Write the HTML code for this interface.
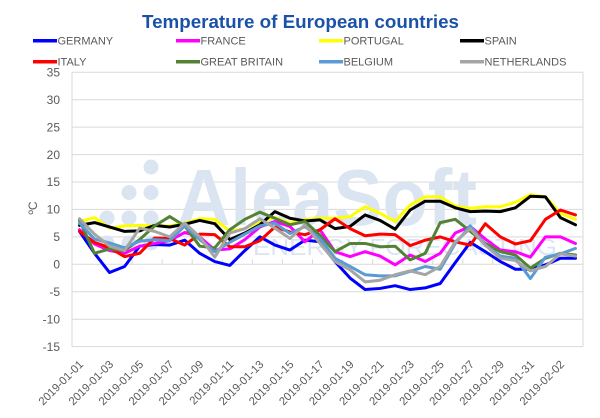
<!DOCTYPE html>
<html><head><meta charset="utf-8"><style>
html,body{margin:0;padding:0;background:#fff;}
svg{display:block;font-family:"Liberation Sans",sans-serif;}
</style></head><body>
<svg width="600" height="418" viewBox="0 0 600 418" xmlns="http://www.w3.org/2000/svg">
<rect width="600" height="418" fill="#fff"/>
<text x="300.5" y="28" text-anchor="middle" font-size="18" font-weight="bold" fill="#1b52a8" textLength="317" lengthAdjust="spacingAndGlyphs">Temperature of European countries</text>
<g font-size="11" fill="#595959" stroke-width="3.5">
<line x1="33" y1="40.7" x2="57" y2="40.7" stroke="#0000ff"/><text x="57.5" y="44.7">GERMANY</text>
<line x1="176" y1="40.7" x2="200" y2="40.7" stroke="#ff00ff"/><text x="200.5" y="44.7">FRANCE</text>
<line x1="319" y1="40.7" x2="343" y2="40.7" stroke="#ffff00"/><text x="343.5" y="44.7">PORTUGAL</text>
<line x1="460" y1="40.7" x2="484" y2="40.7" stroke="#000000"/><text x="484.5" y="44.7">SPAIN</text>
<line x1="33" y1="61.7" x2="57" y2="61.7" stroke="#ff0000"/><text x="57.5" y="65.7">ITALY</text>
<line x1="176" y1="61.7" x2="200" y2="61.7" stroke="#548235"/><text x="200.5" y="65.7">GREAT BRITAIN</text>
<line x1="319" y1="61.7" x2="343" y2="61.7" stroke="#5b9bd5"/><text x="343.5" y="65.7">BELGIUM</text>
<line x1="460" y1="61.7" x2="484" y2="61.7" stroke="#a5a5a5"/><text x="484.5" y="65.7">NETHERLANDS</text>
</g>
<g stroke="#d9d9d9" stroke-width="1">
<line x1="72" y1="72.3" x2="583" y2="72.3"/>
<line x1="72" y1="99.7" x2="583" y2="99.7"/>
<line x1="72" y1="127.1" x2="583" y2="127.1"/>
<line x1="72" y1="154.6" x2="583" y2="154.6"/>
<line x1="72" y1="182" x2="583" y2="182"/>
<line x1="72" y1="209.4" x2="583" y2="209.4"/>
<line x1="72" y1="236.9" x2="583" y2="236.9"/>
<line x1="72" y1="291.7" x2="583" y2="291.7"/>
<line x1="72" y1="319.2" x2="583" y2="319.2"/>
<line x1="72" y1="346.6" x2="583" y2="346.6"/>
<line x1="72" y1="72.3" x2="72" y2="346.6"/>
<line x1="583" y1="72.3" x2="583" y2="346.6"/>
</g>
<g fill="#dbe5f1">
<circle cx="151" cy="167" r="7.5"/>
<circle cx="129" cy="192.5" r="7.5"/><circle cx="151" cy="192.5" r="7.5"/>
<circle cx="107" cy="218" r="7.5"/><circle cx="129" cy="218" r="7.5"/><circle cx="151" cy="218" r="7.5"/>
<circle cx="107" cy="243" r="7.5"/><circle cx="129" cy="243" r="7.5"/><circle cx="151" cy="243" r="7.5"/>
<text x="177" y="225" font-size="80" font-weight="bold" textLength="300" lengthAdjust="spacingAndGlyphs">AleaSoft</text>
<text x="253" y="255" font-size="23" textLength="304" lengthAdjust="spacingAndGlyphs">ENERGY FORECASTING</text>
</g>
<g stroke="#d9d9d9" stroke-width="1">
<line x1="72" y1="264.3" x2="583" y2="264.3"/>
<line x1="102.06" y1="264.3" x2="102.06" y2="259.3"/><line x1="132.12" y1="264.3" x2="132.12" y2="259.3"/><line x1="162.18" y1="264.3" x2="162.18" y2="259.3"/><line x1="192.24" y1="264.3" x2="192.24" y2="259.3"/><line x1="222.3" y1="264.3" x2="222.3" y2="259.3"/><line x1="252.36" y1="264.3" x2="252.36" y2="259.3"/><line x1="282.42" y1="264.3" x2="282.42" y2="259.3"/><line x1="312.48" y1="264.3" x2="312.48" y2="259.3"/><line x1="342.54" y1="264.3" x2="342.54" y2="259.3"/><line x1="372.6" y1="264.3" x2="372.6" y2="259.3"/><line x1="402.66" y1="264.3" x2="402.66" y2="259.3"/><line x1="432.72" y1="264.3" x2="432.72" y2="259.3"/><line x1="462.78" y1="264.3" x2="462.78" y2="259.3"/><line x1="492.84" y1="264.3" x2="492.84" y2="259.3"/><line x1="522.9" y1="264.3" x2="522.9" y2="259.3"/><line x1="552.96" y1="264.3" x2="552.96" y2="259.3"/>
</g>
<g font-size="12" fill="#595959" text-anchor="end">
<text x="60" y="76.5">35</text><text x="60" y="103.9">30</text><text x="60" y="131.3">25</text><text x="60" y="158.8">20</text><text x="60" y="186.2">15</text><text x="60" y="213.6">10</text><text x="60" y="241.1">5</text><text x="60" y="268.5">0</text><text x="60" y="295.9">-5</text><text x="60" y="323.4">-10</text><text x="60" y="350.8">-15</text>
</g>
<text transform="translate(37,208) rotate(-90)" text-anchor="middle" font-size="12" fill="#595959">ºC</text>
<g font-size="11.3" fill="#595959" text-anchor="end">
<text transform="translate(84,365) rotate(-45)">2019-01-01</text>
<text transform="translate(114.06,365) rotate(-45)">2019-01-03</text>
<text transform="translate(144.12,365) rotate(-45)">2019-01-05</text>
<text transform="translate(174.18,365) rotate(-45)">2019-01-07</text>
<text transform="translate(204.24,365) rotate(-45)">2019-01-09</text>
<text transform="translate(234.3,365) rotate(-45)">2019-01-11</text>
<text transform="translate(264.36,365) rotate(-45)">2019-01-13</text>
<text transform="translate(294.42,365) rotate(-45)">2019-01-15</text>
<text transform="translate(324.48,365) rotate(-45)">2019-01-17</text>
<text transform="translate(354.54,365) rotate(-45)">2019-01-19</text>
<text transform="translate(384.6,365) rotate(-45)">2019-01-21</text>
<text transform="translate(414.66,365) rotate(-45)">2019-01-23</text>
<text transform="translate(444.72,365) rotate(-45)">2019-01-25</text>
<text transform="translate(474.78,365) rotate(-45)">2019-01-27</text>
<text transform="translate(504.84,365) rotate(-45)">2019-01-29</text>
<text transform="translate(534.9,365) rotate(-45)">2019-01-31</text>
<text transform="translate(564.96,365) rotate(-45)">2019-02-02</text>
</g>
<g transform="translate(79.5,264.3) scale(15.03,-5.486)" fill="none" stroke-width="3" stroke-linejoin="round" stroke-linecap="round">
<polyline vector-effect="non-scaling-stroke" stroke="#0000ff" points="0,6.0 1,2.0 2,-1.5 3,-0.4 4,3.3 5,3.6 6,3.5 7,4.4 8,2.0 9,0.5 10,-0.2 11,2.5 12,5.0 13,3.5 14,2.6 15,4.4 16,4.1 17,0.5 18,-2.5 19,-4.6 20,-4.4 21,-3.9 22,-4.6 23,-4.3 24,-3.5 25,0.3 26,4.0 27,2.3 28,0.5 29,-0.9 30,-0.9 31,-0.1 32,1.1 33,1.1"/>
<polyline vector-effect="non-scaling-stroke" stroke="#ff00ff" points="0,6.3 1,3.7 2,2.5 3,2.0 4,3.3 5,3.8 6,4.3 7,5.8 8,5.0 9,2.6 10,2.8 11,4.5 12,6.8 13,7.8 14,6.9 15,4.1 16,6.3 17,2.3 18,1.4 19,2.3 20,1.5 21,-0.1 22,1.7 23,0.5 24,2.0 25,5.7 26,6.9 27,4.6 28,2.6 29,2.3 30,1.3 31,5.0 32,5.0 33,3.8"/>
<polyline vector-effect="non-scaling-stroke" stroke="#ffff00" points="0,7.8 1,8.5 2,6.6 3,7.0 4,7.1 5,7.0 6,7.0 7,7.5 8,8.3 9,8.2 10,6.0 11,6.5 12,7.8 13,8.5 14,7.5 15,8.2 16,8.4 17,8.4 18,8.7 19,10.5 20,9.3 21,7.8 22,10.8 23,12.3 24,12.3 25,10.6 26,10.2 27,10.5 28,10.5 29,11.3 30,12.7 31,12.3 32,9.3 33,8.2"/>
<polyline vector-effect="non-scaling-stroke" stroke="#000000" points="0,7.1 1,7.6 2,6.8 3,6.0 4,6.1 5,7.1 6,6.8 7,7.3 8,8.0 9,7.4 10,4.5 11,5.7 12,7.2 13,9.6 14,8.4 15,7.9 16,8.1 17,6.5 18,6.9 19,9.0 20,8.0 21,6.4 22,9.9 23,11.5 24,11.5 25,10.3 26,9.6 27,9.7 28,9.6 29,10.3 30,12.4 31,12.3 32,8.5 33,7.2"/>
<polyline vector-effect="non-scaling-stroke" stroke="#ff0000" points="0,6.0 1,4.0 2,3.0 3,1.4 4,2.0 5,4.8 6,4.7 7,3.5 8,5.5 9,5.4 10,3.2 11,3.2 12,4.3 13,6.8 14,5.9 15,5.4 16,6.3 17,8.3 18,6.5 19,5.2 20,5.5 21,5.4 22,3.4 23,4.4 24,5.0 25,4.1 26,3.5 27,7.4 28,5.0 29,3.7 30,4.3 31,8.2 32,9.9 33,9.0"/>
<polyline vector-effect="non-scaling-stroke" stroke="#548235" points="0,8.0 1,2.0 2,2.8 3,2.5 4,4.5 5,7.0 6,8.7 7,7.0 8,3.3 9,3.0 10,6.3 11,8.2 12,9.5 13,8.4 14,7.2 15,7.8 16,5.3 17,2.3 18,3.8 19,3.8 20,3.2 21,3.3 22,0.8 23,2.0 24,7.6 25,8.2 26,6.0 27,3.8 28,2.3 29,1.7 30,-0.7 31,1.1 32,2.0 33,1.7"/>
<polyline vector-effect="non-scaling-stroke" stroke="#5b9bd5" points="0,7.5 1,4.6 2,3.9 3,3.0 4,4.2 5,4.5 6,4.3 7,7.0 8,4.5 9,2.3 10,4.0 11,5.5 12,7.0 13,7.5 14,5.6 15,6.9 16,4.7 17,1.1 18,-0.4 19,-1.9 20,-2.1 21,-2.1 22,-1.3 23,-0.4 24,-0.9 25,3.8 26,7.0 27,3.5 28,1.5 29,1.1 30,-2.6 31,1.3 32,1.9 33,2.9"/>
<polyline vector-effect="non-scaling-stroke" stroke="#a5a5a5" points="0,8.3 1,5.5 2,3.3 3,2.5 4,6.6 5,6.0 6,5.0 7,7.5 8,5.0 9,1.3 10,5.7 11,6.5 12,8.3 13,6.6 14,4.7 15,7.2 16,3.8 17,0.5 18,-1.0 19,-3.2 20,-2.9 21,-1.9 22,-1.2 23,-1.9 24,-0.4 25,4.1 26,6.5 27,3.5 28,1.1 29,0.7 30,-1.2 31,-0.4 32,1.9 33,1.5"/>
</g>
</svg>
</body></html>
